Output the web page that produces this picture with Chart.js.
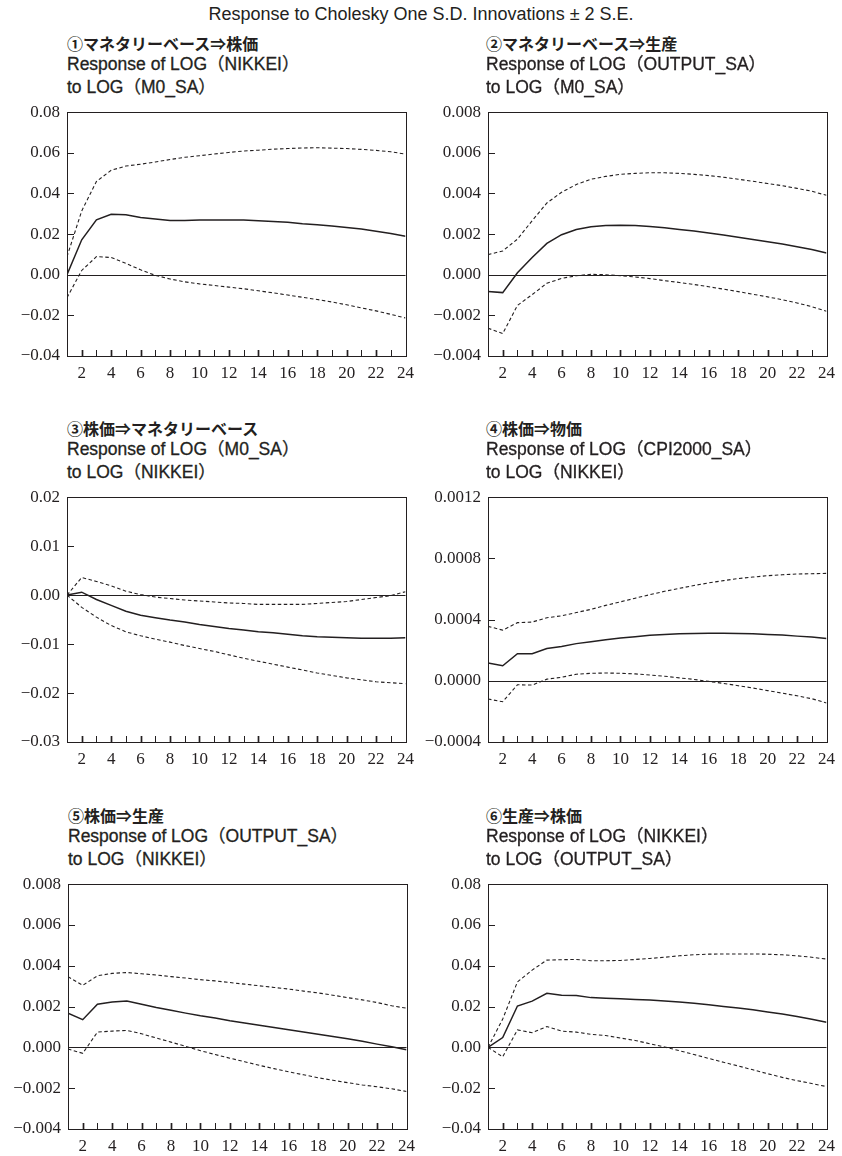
<!DOCTYPE html>
<html>
<head>
<meta charset="utf-8">
<script src="https://cdn.jsdelivr.net/npm/chart.js@4.4.1/dist/chart.umd.min.js"></script>
<style>
  html, body { margin: 0; padding: 0; background: #fff; }
  body { width: 842px; height: 1156px; position: relative; overflow: hidden; }
  .t { position: absolute; white-space: nowrap; color: #231f20; line-height: 1; }
  .main { font-family: "Liberation Sans", Arial, sans-serif; font-size: 18px; left: 0; width: 842px; text-align: center; }
  .jp { font-family: "Noto Sans CJK JP", sans-serif; font-weight: 700; font-size: 16px; }
  .en { font-family: "Liberation Sans", "Noto Sans CJK JP", sans-serif; font-size: 17.5px; -webkit-text-stroke: 0.3px #231f20; }
  canvas { position: absolute; }
</style>
</head>
<body>
<div class="t main" style="top:5px">Response to Cholesky One S.D. Innovations ± 2 S.E.</div>
<script>
// ---- horizon (periods after the shock) ----
const periods = [1, 2, 3, 4, 5, 6, 7, 8, 9, 10, 11, 12, 13, 14, 15, 16, 17, 18, 19, 20, 21, 22, 23, 24];
const periodLabels = ['', '2', '', '4', '', '6', '', '8', '', '10', '', '12', '', '14', '', '16', '', '18', '', '20', '', '22', '', '24'];

// ---- ① monetary base -> stock prices ----
const resp1  = [0.0000, 0.0172, 0.0270, 0.0298, 0.0295, 0.0282, 0.0274, 0.0267, 0.0267, 0.0269, 0.0270, 0.0270, 0.0269, 0.0266, 0.0262, 0.0258, 0.0251, 0.0246, 0.0240, 0.0232, 0.0225, 0.0214, 0.0203, 0.0189];
const upper1 = [0.0089, 0.0314, 0.0459, 0.0514, 0.0535, 0.0544, 0.0555, 0.0567, 0.0578, 0.0586, 0.0594, 0.0602, 0.0609, 0.0613, 0.0618, 0.0621, 0.0624, 0.0625, 0.0623, 0.0621, 0.0617, 0.0612, 0.0605, 0.0594];
const lower1 = [-0.0113, 0.0021, 0.0089, 0.0085, 0.0056, 0.0024, -0.0003, -0.0021, -0.0035, -0.0045, -0.0053, -0.0061, -0.0069, -0.0079, -0.0089, -0.0100, -0.0111, -0.0122, -0.0134, -0.0148, -0.0163, -0.0178, -0.0195, -0.0213];

// ---- ② monetary base -> output ----
const resp2  = [-0.00083, -0.00088, 0.00010, 0.00085, 0.00154, 0.00197, 0.00223, 0.00236, 0.00242, 0.00244, 0.00242, 0.00237, 0.00231, 0.00223, 0.00215, 0.00205, 0.00196, 0.00184, 0.00173, 0.00162, 0.00151, 0.00138, 0.00124, 0.00107];
const upper2 = [0.00099, 0.00117, 0.00175, 0.00266, 0.00353, 0.00406, 0.00444, 0.00470, 0.00484, 0.00494, 0.00499, 0.00502, 0.00502, 0.00499, 0.00494, 0.00488, 0.00480, 0.00470, 0.00460, 0.00449, 0.00438, 0.00425, 0.00411, 0.00391];
const lower2 = [-0.00263, -0.00290, -0.00151, -0.00098, -0.00042, -0.00018, -0.00005, 0.00002, 0.00000, -0.00005, -0.00011, -0.00019, -0.00029, -0.00038, -0.00048, -0.00059, -0.00071, -0.00083, -0.00096, -0.00109, -0.00123, -0.00139, -0.00157, -0.00180];

// ---- ③ stock prices -> monetary base ----
const resp3  = [0.0000, 0.0006, -0.0009, -0.0021, -0.0033, -0.0041, -0.0046, -0.0051, -0.0055, -0.0060, -0.0064, -0.0068, -0.0071, -0.0075, -0.0077, -0.0080, -0.0083, -0.0085, -0.0086, -0.0087, -0.0088, -0.0088, -0.0088, -0.0087];
const upper3 = [0.0000, 0.0036, 0.0028, 0.0019, 0.0008, 0.0001, -0.0004, -0.0007, -0.0010, -0.0012, -0.0014, -0.0016, -0.0017, -0.0019, -0.0019, -0.0019, -0.0019, -0.0017, -0.0015, -0.0013, -0.0009, -0.0005, -0.0001, 0.0007];
const lower3 = [0.0000, -0.0025, -0.0045, -0.0062, -0.0075, -0.0083, -0.0090, -0.0096, -0.0103, -0.0109, -0.0115, -0.0122, -0.0129, -0.0135, -0.0141, -0.0147, -0.0153, -0.0159, -0.0164, -0.0169, -0.0173, -0.0177, -0.0179, -0.0181];

// ---- ④ stock prices -> consumer prices ----
const resp4  = [0.000117, 0.000098, 0.000177, 0.000177, 0.000211, 0.000224, 0.000243, 0.000256, 0.000269, 0.000279, 0.000288, 0.000297, 0.000303, 0.000307, 0.000309, 0.000311, 0.000311, 0.000309, 0.000307, 0.000303, 0.000299, 0.000292, 0.000286, 0.000277];
const upper4 = [0.000356, 0.000331, 0.000380, 0.000384, 0.000412, 0.000425, 0.000446, 0.000467, 0.000493, 0.000516, 0.000540, 0.000563, 0.000585, 0.000604, 0.000623, 0.000640, 0.000655, 0.000668, 0.000678, 0.000687, 0.000693, 0.000698, 0.000700, 0.000702];
const lower4 = [-0.000119, -0.000137, -0.000026, -0.000028, 0.000011, 0.000023, 0.000043, 0.000049, 0.000051, 0.000049, 0.000045, 0.000038, 0.000030, 0.000019, 0.000009, -0.000004, -0.000017, -0.000032, -0.000047, -0.000064, -0.000081, -0.000098, -0.000117, -0.000145];

// ---- ⑤ stock prices -> output ----
const resp5  = [0.00168, 0.00136, 0.00212, 0.00222, 0.00227, 0.00212, 0.00196, 0.00182, 0.00168, 0.00155, 0.00144, 0.00131, 0.00120, 0.00109, 0.00097, 0.00086, 0.00075, 0.00064, 0.00053, 0.00042, 0.00030, 0.00016, 0.00003, -0.00011];
const upper5 = [0.00347, 0.00304, 0.00351, 0.00363, 0.00367, 0.00361, 0.00355, 0.00347, 0.00340, 0.00332, 0.00326, 0.00318, 0.00310, 0.00302, 0.00294, 0.00286, 0.00276, 0.00267, 0.00256, 0.00244, 0.00233, 0.00220, 0.00204, 0.00192];
const lower5 = [-0.00008, -0.00029, 0.00075, 0.00080, 0.00083, 0.00067, 0.00046, 0.00026, 0.00005, -0.00016, -0.00035, -0.00053, -0.00070, -0.00088, -0.00104, -0.00120, -0.00134, -0.00149, -0.00161, -0.00173, -0.00184, -0.00193, -0.00203, -0.00216];

// ---- ⑥ output -> stock prices ----
const resp6  = [0.0000, 0.0048, 0.0203, 0.0227, 0.0265, 0.0256, 0.0254, 0.0244, 0.0241, 0.0238, 0.0235, 0.0232, 0.0227, 0.0222, 0.0216, 0.0209, 0.0201, 0.0193, 0.0184, 0.0174, 0.0164, 0.0152, 0.0138, 0.0123];
const upper6 = [0.0000, 0.0139, 0.0321, 0.0379, 0.0428, 0.0430, 0.0431, 0.0425, 0.0425, 0.0426, 0.0431, 0.0436, 0.0442, 0.0449, 0.0454, 0.0457, 0.0458, 0.0458, 0.0458, 0.0457, 0.0454, 0.0449, 0.0442, 0.0433];
const lower6 = [0.0000, -0.0046, 0.0086, 0.0072, 0.0102, 0.0080, 0.0075, 0.0064, 0.0058, 0.0046, 0.0034, 0.0018, 0.0002, -0.0016, -0.0035, -0.0054, -0.0073, -0.0091, -0.0110, -0.0129, -0.0147, -0.0163, -0.0177, -0.0192];

// ---- value-axis ticks ----
const ticksA = [-0.04, -0.02, 0, 0.02, 0.04, 0.06, 0.08];
const labelsA = ['−0.04', '−0.02', '0.00', '0.02', '0.04', '0.06', '0.08'];
const ticksB = [-0.004, -0.002, 0, 0.002, 0.004, 0.006, 0.008];
const labelsB = ['−0.004', '−0.002', '0.000', '0.002', '0.004', '0.006', '0.008'];
const ticksC = [-0.03, -0.02, -0.01, 0, 0.01, 0.02];
const labelsC = ['−0.03', '−0.02', '−0.01', '0.00', '0.01', '0.02'];
const ticksD = [-0.0004, 0, 0.0004, 0.0008, 0.0012];
const labelsD = ['−0.0004', '0.0000', '0.0004', '0.0008', '0.0012'];

// ---- panel headings ----
const heads1 = ['①マネタリーベース⇒株価', 'Response of LOG（NIKKEI）', 'to LOG（M0_SA）'];
const heads2 = ['②マネタリーベース⇒生産', 'Response of LOG（OUTPUT_SA）', 'to LOG（M0_SA）'];
const heads3 = ['③株価⇒マネタリーベース', 'Response of LOG（M0_SA）', 'to LOG（NIKKEI）'];
const heads4 = ['④株価⇒物価', 'Response of LOG（CPI2000_SA）', 'to LOG（NIKKEI）'];
const heads5 = ['⑤株価⇒生産', 'Response of LOG（OUTPUT_SA）', 'to LOG（NIKKEI）'];
const heads6 = ['⑥生産⇒株価', 'Response of LOG（NIKKEI）', 'to LOG（OUTPUT_SA）'];

// Panel contents
const panels = [
  { heads: heads1, resp: resp1, upper: upper1, lower: lower1, ticks: ticksA, labels: labelsA },
  { heads: heads2, resp: resp2, upper: upper2, lower: lower2, ticks: ticksB, labels: labelsB },
  { heads: heads3, resp: resp3, upper: upper3, lower: lower3, ticks: ticksC, labels: labelsC },
  { heads: heads4, resp: resp4, upper: upper4, lower: lower4, ticks: ticksD, labels: labelsD },
  { heads: heads5, resp: resp5, upper: upper5, lower: lower5, ticks: ticksB, labels: labelsB },
  { heads: heads6, resp: resp6, upper: upper6, lower: lower6, ticks: ticksA, labels: labelsA }
];

// Plot-area boxes on the page: [left, top, right, bottom]
const boxes = [
  [67, 107, 407, 356], [488, 107, 828, 356],
  [67, 492, 407, 742], [488, 492, 828, 742],
  [68, 879, 408, 1129], [488, 879, 828, 1129]
];

const INK = '#231f20';
const YW = 80, XH = 32, PT = 12, PR = 14;

// serif numerals on both axes
Chart.defaults.font.family = '"Liberation Serif", "DejaVu Serif", "Times New Roman", serif';
Chart.defaults.font.size = 17;
Chart.defaults.color = INK;

// Frame, zero line and inward tick marks
const framePlugin = {
  id: 'frame',
  afterDatasetsDraw(chart) {
    const { ctx, chartArea: a, scales: { x, y } } = chart;
    ctx.save();
    ctx.strokeStyle = INK;
    ctx.lineWidth = 1;
    const y0 = Math.round(y.getPixelForValue(0)) + 0.5;
    ctx.beginPath();
    ctx.moveTo(a.left, y0);
    ctx.lineTo(a.right, y0);
    ctx.stroke();
    ctx.strokeRect(Math.round(a.left) + 0.5, Math.round(a.top) + 0.5,
                   Math.round(a.right - a.left), Math.round(a.bottom - a.top));
    x.ticks.forEach(t => {
      if (t.value <= x.min || t.value >= x.max) return;
      const px = Math.round(x.getPixelForValue(t.value)) + 0.5;
      ctx.lineWidth = t.value % 2 === 0 ? 1.7 : 1;
      ctx.beginPath();
      ctx.moveTo(px, a.bottom);
      ctx.lineTo(px, a.bottom - 6);
      ctx.stroke();
    });
    ctx.lineWidth = 1;
    y.ticks.forEach(t => {
      if (t.value <= y.min || t.value >= y.max || t.value === 0) return;
      const py = Math.round(y.getPixelForValue(t.value)) + 0.5;
      ctx.beginPath();
      ctx.moveTo(a.left, py);
      ctx.lineTo(a.left + 7, py);
      ctx.stroke();
    });
    ctx.restore();
  }
};

function addHeading(text, cls, left, top) {
  const d = document.createElement('div');
  d.className = 't ' + cls;
  d.style.left = left + 'px';
  d.style.top = top + 'px';
  d.textContent = text;
  document.body.appendChild(d);
}

const toPoints = arr => arr.map((v, i) => ({ x: periods[i], y: v }));

function buildPanels() {
  panels.forEach((p, k) => {
    const [L, T, R, B] = boxes[k];
    const textLeft = k % 2 === 0 ? L : L - 2;
    addHeading(p.heads[0], 'jp', textLeft, T - 72);
    addHeading(p.heads[1], 'en', textLeft, T - 51);
    addHeading(p.heads[2], 'en', textLeft, T - 28);

    const cv = document.createElement('canvas');
    const cl = L - YW, ct = T - PT;
    const cw = R + PR - cl, ch = B + XH - ct;
    cv.width = cw; cv.height = ch;
    cv.style.left = cl + 'px'; cv.style.top = ct + 'px';
    cv.style.width = cw + 'px'; cv.style.height = ch + 'px';
    document.body.appendChild(cv);

    const ymin = p.ticks[0], ymax = p.ticks[p.ticks.length - 1];
    new Chart(cv.getContext('2d'), {
      type: 'line',
      data: {
        datasets: [
          { data: toPoints(p.upper), borderColor: INK, borderWidth: 1.1, borderDash: [3.5, 2.5], pointRadius: 0, tension: 0, fill: false },
          { data: toPoints(p.lower), borderColor: INK, borderWidth: 1.1, borderDash: [3.5, 2.5], pointRadius: 0, tension: 0, fill: false },
          { data: toPoints(p.resp),  borderColor: INK, borderWidth: 1.5, pointRadius: 0, tension: 0, fill: false }
        ]
      },
      options: {
        responsive: false,
        animation: false,
        devicePixelRatio: 1,
        layout: { padding: { top: PT, right: PR, left: 0, bottom: 0 } },
        plugins: { legend: { display: false }, tooltip: { enabled: false } },
        scales: {
          x: {
            type: 'linear', min: 1, max: 24,
            afterBuildTicks: s => { s.ticks = periods.map(v => ({ value: v })); },
            afterFit: s => { s.height = XH; },
            grid: { display: false, drawTicks: false },
            border: { display: false },
            ticks: { autoSkip: false, maxRotation: 0, minRotation: 0, padding: 7, color: INK,
                     callback: (v, i) => periodLabels[i] }
          },
          y: {
            type: 'linear', min: ymin, max: ymax,
            afterBuildTicks: s => { s.ticks = p.ticks.map(v => ({ value: v })); },
            afterFit: s => { s.width = YW; },
            grid: { display: false, drawTicks: false },
            border: { display: false },
            ticks: { padding: 7, color: INK, callback: (v, i) => p.labels[i] }
          }
        }
      },
      plugins: [framePlugin]
    });
  });
}

if (document.fonts && document.fonts.load) {
  document.fonts.load('17px "Liberation Serif"').then(buildPanels, buildPanels);
} else {
  buildPanels();
}
</script>
</body>
</html>
